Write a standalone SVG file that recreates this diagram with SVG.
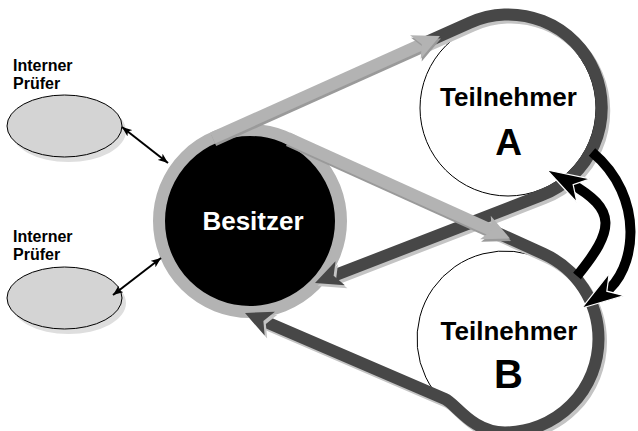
<svg xmlns="http://www.w3.org/2000/svg" xmlns:xlink="http://www.w3.org/1999/xlink" width="638" height="431" viewBox="0 0 638 431">
  <style>
    .lbl { font-family: "Liberation Sans", Arial, sans-serif; font-weight: bold; }
    .audit { fill: #d4d4d4; stroke: #000; stroke-width: 1; }
    .audit-shadow { fill: #dedede; }
    .party { fill: #fff; stroke: #000; stroke-width: 1; }
    .band { fill: none; stroke-width: 12; stroke-linejoin: round; }
    .dark { stroke: #474747; }
    .dark-shadow { stroke: #c4c4c4; }
    .light { stroke: #b3b3b3; }
    .light-shadow { stroke: #9a9a9a; }
    .head-dark { fill: #474747; }
    .head-dark-shadow { fill: #c4c4c4; }
    .head-light { fill: #b3b3b3; }
    .head-light-shadow { fill: #9a9a9a; }
    .swap { fill: none; stroke: #000; stroke-width: 10; }
    .swap-head { fill: #000; stroke: #fff; stroke-width: 1.2; stroke-linejoin: miter; }
    .thin { stroke: #000; stroke-width: 2; fill: none; }
  </style>
  <defs>
    <marker id="tip" viewBox="0 0 10 8" refX="10" refY="4" markerWidth="10" markerHeight="8" markerUnits="userSpaceOnUse" orient="auto-start-reverse">
      <path d="M0,0 L10,4 L0,8 L2.5,4 z" fill="#000"/>
    </marker>
    <!-- return belts: Teilnehmer A / B back to Besitzer -->
    <path id="bandA" d="M 419.9,45.0 L 469.73,22.69 A 93.5 93.5 0 1 1 541.7,195.2 L 328.1,277.9"/>
    <path id="bandB" d="M 489.95,229.5 L 543.51,253.79 A 93.5 93.5 0 0 1 598.5,339 A 93.5 93.5 0 0 1 505,432.5 C 472,432.5 456,403.7 445,399 L 257.9,318.5"/>
    <!-- outgoing belt: Besitzer to A and B -->
    <path id="lineA" d="M 212.75,137.97 L 427.2,41.7"/>
    <path id="lineB" d="M 287.48,138.07 L 497.2,232.8"/>
    <polygon id="head" points="0,0 -27,-13 -20,0 -27,13"/>
    <polygon id="bigHead" points="0,0 -42,-13.5 -30,0 -42,13.5"/>
  </defs>

  <rect width="638" height="431" fill="#fff"/>

  <!-- internal auditors -->
  <g id="pruefer1">
    <ellipse class="audit-shadow" cx="68.5" cy="131" rx="57.5" ry="31"/>
    <ellipse class="audit" cx="64.5" cy="126" rx="57.5" ry="31"/>
    <text class="lbl" x="13" y="70.5" font-size="16">Interner</text>
    <text class="lbl" x="13" y="89" font-size="16">Prüfer</text>
  </g>
  <g id="pruefer2">
    <ellipse class="audit-shadow" cx="68.5" cy="303" rx="57.5" ry="31"/>
    <ellipse class="audit" cx="64.5" cy="298" rx="57.5" ry="31"/>
    <text class="lbl" x="13" y="242" font-size="16">Interner</text>
    <text class="lbl" x="13" y="260" font-size="16">Prüfer</text>
  </g>

  <!-- participants -->
  <g id="teilnehmerA">
    <circle class="party" cx="508" cy="108" r="88"/>
    <text class="lbl" x="508.5" y="106" font-size="26" text-anchor="middle">Teilnehmer</text>
    <text class="lbl" x="508.5" y="155" font-size="37" text-anchor="middle">A</text>
  </g>
  <g id="teilnehmerB">
    <circle cx="505" cy="339" r="88" fill="#fff"/>
    <path d="M 443.9,402.3 A 88 88 0 0 1 543.6,259.9" fill="none" stroke="#000" stroke-width="1"/>
    <text class="lbl" x="509" y="340" font-size="26" text-anchor="middle">Teilnehmer</text>
    <text class="lbl" x="508.5" y="388" font-size="40" text-anchor="middle">B</text>
  </g>

  <!-- owner -->
  <g id="besitzer">
    <circle cx="250" cy="221" r="86" fill="#000"/>
    <text class="lbl" x="253" y="230" font-size="26" fill="#fff" text-anchor="middle">Besitzer</text>
  </g>

  <g id="connectors">
    <!-- dark return belts -->
    <use xlink:href="#bandA" class="band dark-shadow" transform="translate(2.5,3)"/>
    <use xlink:href="#bandB" class="band dark-shadow" transform="translate(2.5,3)"/>
    <use xlink:href="#bandA" class="band dark"/>
    <use xlink:href="#bandB" class="band dark"/>

    <!-- light belt wrapped round Besitzer -->
    <circle cx="250" cy="221" r="91" fill="none" stroke="#b3b3b3" stroke-width="12"/>
    <use xlink:href="#lineA" class="band light-shadow" transform="translate(1,2.5)"/>
    <use xlink:href="#lineB" class="band light-shadow" transform="translate(1,2.5)"/>
    <use xlink:href="#lineA" class="band light"/>
    <use xlink:href="#lineB" class="band light"/>
    <g transform="translate(441,38.5) rotate(-24.16)"><use xlink:href="#head" class="head-light-shadow"/></g>
    <g transform="translate(511,241.1) rotate(24.32)"><use xlink:href="#head" class="head-light-shadow"/></g>
    <g transform="translate(440,36) rotate(-24.16)"><use xlink:href="#head" class="head-light"/></g>
    <g transform="translate(510,238.6) rotate(24.32)"><use xlink:href="#head" class="head-light"/></g>

    <!-- dark arrowheads at Besitzer -->
    <g transform="translate(317.5,286) rotate(158.83)"><use xlink:href="#head" class="head-dark-shadow"/></g>
    <g transform="translate(247.5,316) rotate(-156.73)"><use xlink:href="#head" class="head-dark-shadow"/></g>
    <g transform="translate(315,283) rotate(158.83)"><use xlink:href="#head" class="head-dark"/></g>
    <g transform="translate(245,313) rotate(-156.73)"><use xlink:href="#head" class="head-dark"/></g>

    <!-- exchange between A and B -->
    <path class="swap" d="M 592,152 C 645.9,196.8 636.8,271 603.6,293.4"/>
    <g transform="translate(582,308) rotate(145.9)"><use xlink:href="#bigHead" class="swap-head"/></g>
    <path class="swap" d="M 577,276 C 614.8,229.8 617.5,209.8 569.6,182.8"/>
    <g transform="translate(547,170) rotate(-150.6)"><use xlink:href="#bigHead" class="swap-head"/></g>

    <!-- auditor links -->
    <line class="thin" x1="122" y1="127" x2="168" y2="163" marker-start="url(#tip)" marker-end="url(#tip)"/>
    <line class="thin" x1="113" y1="295" x2="161" y2="258" marker-start="url(#tip)" marker-end="url(#tip)"/>
  </g>
</svg>
